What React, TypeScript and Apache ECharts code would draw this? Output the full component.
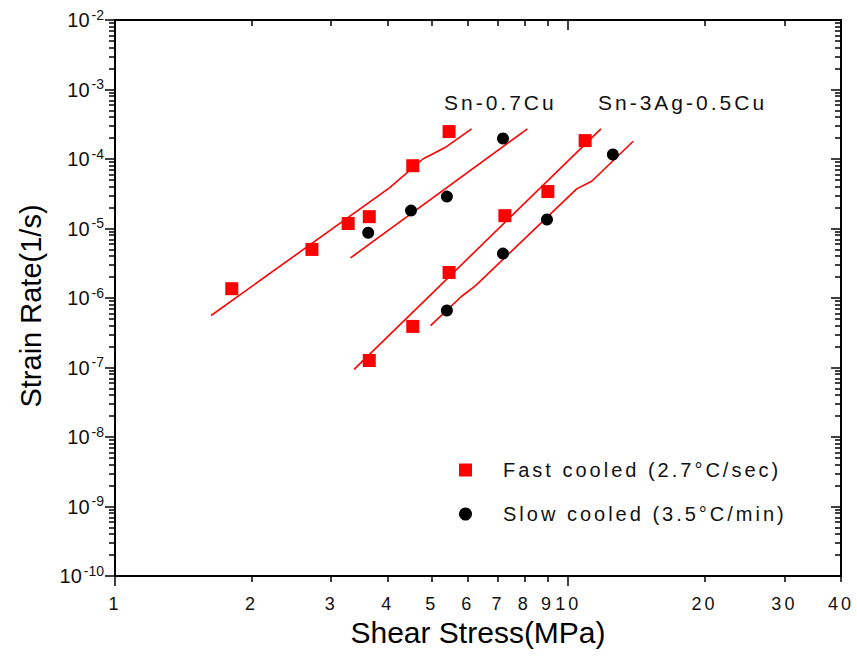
import React, { useEffect, useRef } from "react";
import * as echarts from "echarts";

// ---- data (Shear stress in MPa, strain rate in 1/s) ----
const fastSnCuX = [1.81, 2.72, 3.27, 3.64, 4.54, 5.46];
const fastSnCuY = [1.36e-6, 5.0e-6, 1.18e-5, 1.48e-5, 8.0e-5, 2.48e-4];
const fastSacX = [3.64, 4.54, 5.46, 7.25, 9.02, 10.9];
const fastSacY = [1.26e-7, 3.9e-7, 2.33e-6, 1.53e-5, 3.4e-5, 1.84e-4];
const slowSnCuX = [3.62, 4.5, 5.4, 7.18];
const slowSnCuY = [8.7e-6, 1.81e-5, 2.88e-5, 1.97e-4];
const slowSacX = [5.4, 7.18, 8.98, 12.55];
const slowSacY = [6.6e-7, 4.35e-6, 1.35e-5, 1.16e-4];

// fitted lines
const fitFastSnCuX = [1.63, 4.04, 4.78, 5.35, 6.12];
const fitFastSnCuY = [5.6e-7, 3.88e-5, 1.0e-4, 1.46e-4, 2.71e-4];
const fitSlowSnCuX = [3.31, 8.13];
const fitSlowSnCuY = [3.78e-6, 2.71e-4];
const fitFastSacX = [3.37, 11.81];
const fitFastSacY = [9.4e-8, 2.71e-4];
const fitSlowSacX = [4.97, 5.82, 6.23, 10.44, 11.27, 13.92];
const fitSlowSacY = [4.0e-7, 1.06e-6, 1.48e-6, 3.72e-5, 4.78e-5, 1.8e-4];

// axis ticks
const xTickLabels = [1, 2, 3, 4, 5, 6, 7, 8, 9, 10, 20, 30, 40];
const xMajorTicks = [1, 10];
const xMinorTicks = [2, 3, 4, 5, 6, 7, 8, 9, 20, 30, 40];
const yDecades = [-10, -9, -8, -7, -6, -5, -4, -3, -2];
const yMinorMultipliers = [2, 3, 4, 5, 6, 7, 8, 9];

const FAST = "Fast cooled (2.7°C/sec)";
const SLOW = "Slow cooled (3.5°C/min)";
const ANN_SNCU = "Sn-0.7Cu";
const ANN_SAC = "Sn-3Ag-0.5Cu";

const L = (v: number) => Math.log10(v);
const XMIN = 0;
const XMAX = L(40);
const YMIN = -10;
const YMAX = -2;

const SPACED = "Arial, 'Liberation Sans', sans-serif";
const PLAIN = "'Liberation Sans', sans-serif";

const yMinorTicks: number[] = [];
for (const d of yDecades.slice(0, -1)) {
  for (const m of yMinorMultipliers) yMinorTicks.push(d + L(m));
}

const toPts = (xs: number[], ys: number[]) => xs.map((x, i) => [L(x), L(ys[i])]);

function xAxis(position: string, ticks: number[], len: number, withLine: boolean, withLabels: boolean, withName: boolean) {
  return {
    type: "value",
    position,
    min: XMIN,
    max: XMAX,
    gridIndex: 0,
    splitLine: { show: false },
    axisLine: { show: withLine, onZero: false, lineStyle: { color: "#000", width: 2 } },
    axisTick: {
      show: true,
      inside: position === "top",
      length: len,
      customValues: ticks,
      lineStyle: { color: "#000", width: 1.5 },
    },
    axisLabel: withLabels
      ? {
          show: true,
          customValues: xTickLabels.map(L),
          formatter: (v: number) => String(Math.round(Math.pow(10, v))),
          margin: 19,
          fontFamily: SPACED,
          fontSize: 18,
          color: "#111",
        }
      : { show: false },
    name: withName ? "Shear Stress(MPa)" : "",
    nameLocation: "middle",
    nameGap: 28,
    nameTextStyle: { fontFamily: PLAIN, fontSize: 30, color: "#000" },
  };
}

function yAxis(position: string, ticks: number[], len: number, withLine: boolean, withLabels: boolean, withName: boolean) {
  return {
    type: "value",
    position,
    min: YMIN,
    max: YMAX,
    gridIndex: 0,
    splitLine: { show: false },
    axisLine: { show: withLine, onZero: false, lineStyle: { color: "#000", width: 2 } },
    axisTick: {
      show: true,
      inside: position === "right",
      length: len,
      customValues: ticks,
      lineStyle: { color: "#000", width: 1.5 },
    },
    axisLabel: withLabels
      ? {
          show: true,
          customValues: yDecades,
          formatter: (v: number) => `{b|10}{s|${Math.round(v)}}`,
          margin: 11,
          rich: {
            b: { fontFamily: PLAIN, fontSize: 20, color: "#111", padding: [0, 2, 0, 0] },
            s: { fontFamily: PLAIN, fontSize: 14, color: "#111", padding: [0, 0, 11, 0] },
          },
        }
      : { show: false },
    name: withName ? "Strain Rate(1/s)" : "",
    nameLocation: "middle",
    nameGap: 70,
    nameTextStyle: { fontFamily: PLAIN, fontSize: 29, color: "#000", padding: [0, 16, 0, 0] },
  };
}

export default function App() {
  const ref = useRef<HTMLDivElement>(null);
  useEffect(() => {
    if (!ref.current) return;
    const chart = echarts.init(ref.current, null, { renderer: "svg" });
    const fits: [number[], number[]][] = [
      [fitFastSnCuX, fitFastSnCuY],
      [fitSlowSnCuX, fitSlowSnCuY],
      [fitFastSacX, fitFastSacY],
      [fitSlowSacX, fitSlowSacY],
    ];
    const option: any = {
      animation: false,
      backgroundColor: "#fff",
      grid: { left: 115, right: 16, top: 20, bottom: 92, containLabel: false },
      xAxis: [
        xAxis("bottom", xMajorTicks.map(L), 10, true, true, true),
        xAxis("bottom", xMinorTicks.map(L), 6, false, false, false),
        xAxis("top", xMajorTicks.map(L), 10, true, false, false),
        xAxis("top", xMinorTicks.map(L), 6, false, false, false),
      ],
      yAxis: [
        yAxis("left", yDecades, 10, true, true, true),
        yAxis("left", yMinorTicks, 6, false, false, false),
        yAxis("right", yDecades, 10, true, false, false),
        yAxis("right", yMinorTicks, 6, false, false, false),
      ],
      legend: {
        data: [FAST, SLOW],
        orient: "vertical",
        left: 454,
        top: 455,
        itemWidth: 13,
        itemHeight: 13,
        itemGap: 24,
        selectedMode: false,
        textStyle: { fontFamily: SPACED, fontSize: 20, color: "#111", padding: [0, 0, 0, 26] },
      },
      graphic: [
        {
          type: "text",
          x: 444,
          y: 102,
          style: { text: ANN_SNCU, fontFamily: SPACED, fontSize: 21, fill: "#111", align: "left", verticalAlign: "middle" },
        },
        {
          type: "text",
          x: 598,
          y: 102,
          style: { text: ANN_SAC, fontFamily: SPACED, fontSize: 21, fill: "#111", align: "left", verticalAlign: "middle" },
        },
      ],
      series: [
        ...fits.map(([xs, ys], i) => ({
          type: "line",
          name: "fit" + i,
          data: toPts(xs, ys),
          symbol: "none",
          showSymbol: false,
          silent: true,
          lineStyle: { color: "#ff0000", width: 1.6 },
          itemStyle: { color: "#ff0000" },
          z: 2,
        })),
        {
          type: "scatter",
          name: FAST,
          data: [...toPts(fastSnCuX, fastSnCuY), ...toPts(fastSacX, fastSacY)],
          symbol: "rect",
          symbolSize: 13,
          itemStyle: { color: "#ff0000", opacity: 1 },
          z: 3,
        },
        {
          type: "scatter",
          name: SLOW,
          data: [...toPts(slowSnCuX, slowSnCuY), ...toPts(slowSacX, slowSacY)],
          symbol: "circle",
          symbolSize: 12,
          itemStyle: { color: "#000", opacity: 1 },
          z: 3,
        },
      ],
    };
    chart.setOption(option);
    return () => chart.dispose();
  }, []);
  return (
    <div>
      <style>{`.chartbox text[style*="Arial"]{letter-spacing:3px;}`}</style>
      <div
        ref={ref}
        className="chartbox"
        style={{ position: "absolute", left: 0, top: 0, width: 857, height: 668 }}
      />
    </div>
  );
}
